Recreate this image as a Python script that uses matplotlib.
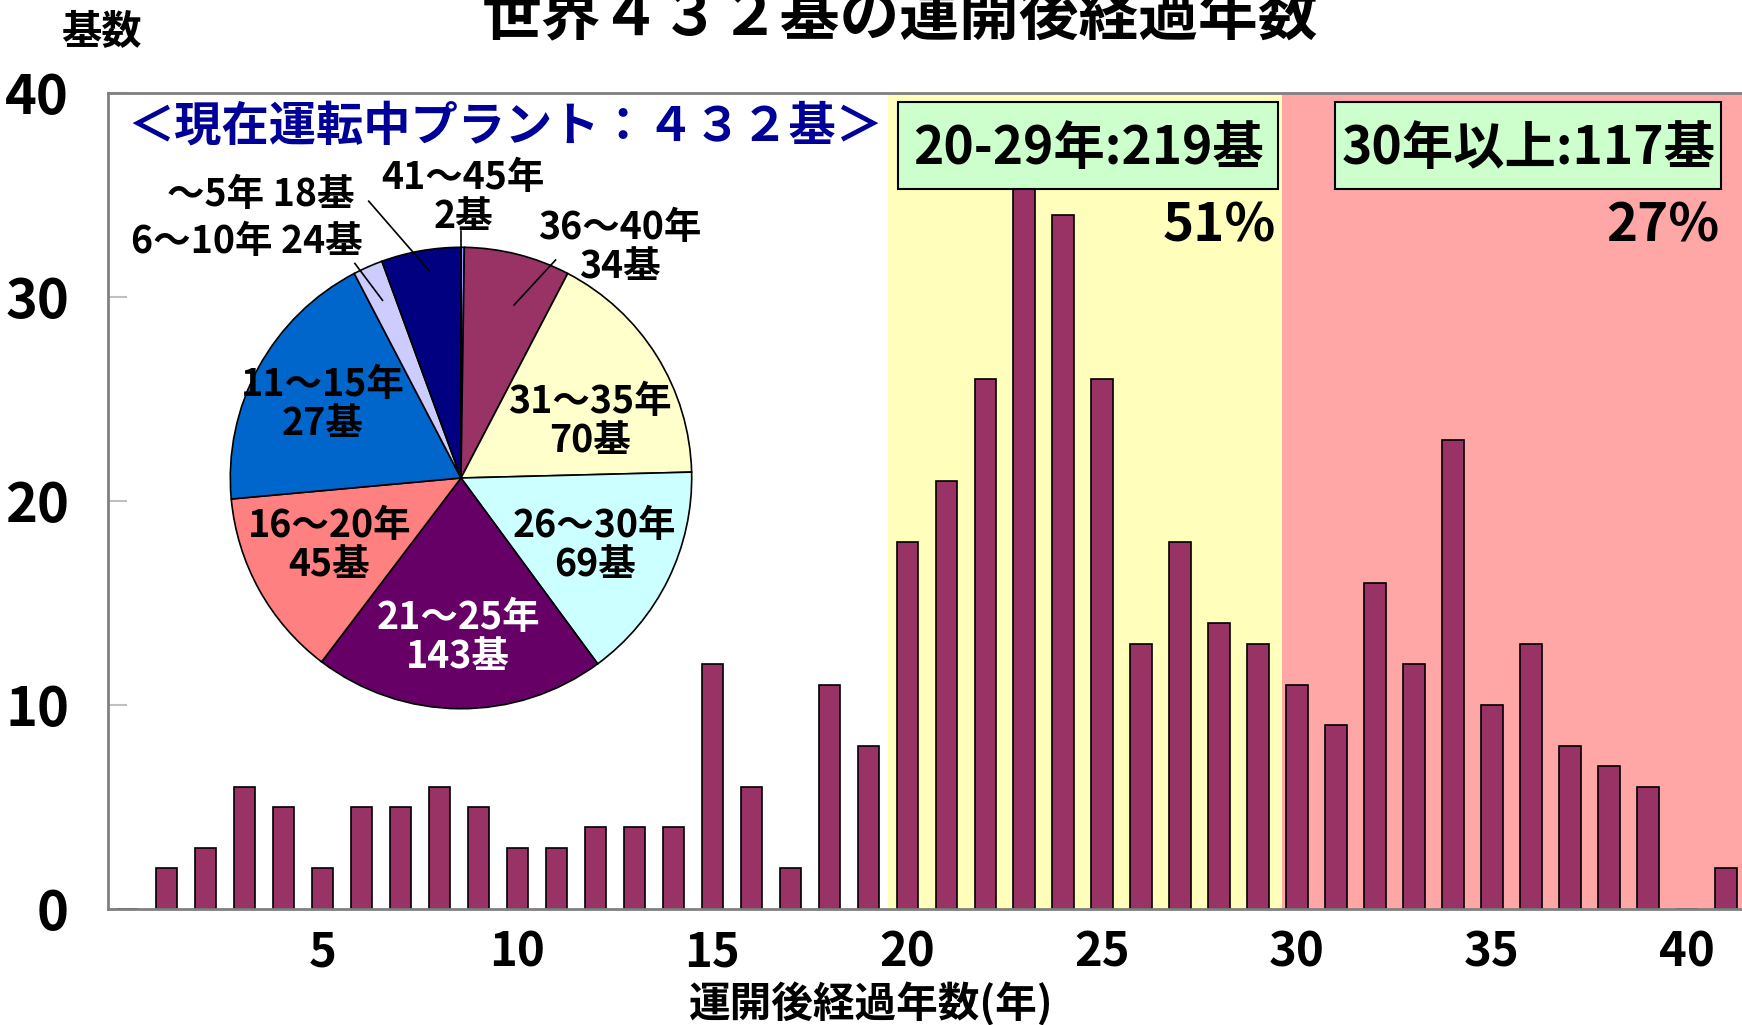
import matplotlib
matplotlib.use('Agg')
import matplotlib.pyplot as plt
from matplotlib.patches import Rectangle

plt.rcParams['font.family'] = ['Noto Sans CJK JP', 'DejaVu Sans']

# bar data: plants by years since start of operation
years = list(range(0, 42))
counts = [0,
          2, 3, 6, 5, 2, 5, 5, 6, 5, 3,
          3, 4, 4, 4, 12, 6, 2, 11, 8, 18,
          21, 26, 36, 34, 26, 13, 18, 14, 13, 11,
          9, 16, 12, 23, 10, 13, 8, 7, 6, 0, 2]
xticks = [5, 10, 15, 20, 25, 30, 35, 40]
yticks = [0, 10, 20, 30, 40]

# pie data (clockwise from top)
pie_ranges = ['41～45年', '36～40年', '31～35年', '26～30年', '21～25年',
              '16～20年', '11～15年', '6～10年', '～5年']
pie_counts = [2, 34, 70, 69, 143, 45, 27, 24, 18]
pie_sizes = [1, 32, 73, 66, 88, 57, 81, 9, 24]   # slice sizes as drawn
pie_colors = ['#9999FF', '#993366', '#FFFFCC', '#CCFFFF', '#660066',
              '#FF8080', '#0066CC', '#CCCCFF', '#000080']

fig = plt.figure(figsize=(17.42, 10.25), dpi=100)
ax = fig.add_axes([0.062, 0.1132, 0.94, 0.7961])

ax.axvspan(19.5, 29.6, color='#FFFFBB', zorder=0, lw=0)
ax.axvspan(29.6, 41.5, color='#FFA6A6', zorder=0, lw=0)
ax.bar(years, counts, width=0.55, color='#993366', edgecolor='black',
       linewidth=1.2, zorder=2)

ax.set_xlim(-0.5, 41.5)
ax.set_ylim(0, 40)
ax.set_xticks(xticks)
ax.set_xticklabels([str(t) for t in xticks], fontweight='bold', fontsize=34)
ax.set_yticks(yticks)
ax.set_yticklabels([str(t) for t in yticks], fontweight='bold', fontsize=39)
ax.tick_params(axis='x', length=0, pad=14)
ax.tick_params(axis='y', direction='in', length=14, color='#c0c0c0',
               width=1.5, pad=28)
for s in ['top', 'left', 'bottom']:
    ax.spines[s].set_color('#808080')
    ax.spines[s].set_linewidth(2)
ax.spines['right'].set_visible(False)

# range boxes
for x0, x1, txt, pct in [(19.77, 29.52, '20-29年:219基', '51%'),
                         (30.98, 40.87, '30年以上:117基', '27%')]:
    ax.add_patch(Rectangle((x0, 35.3), x1 - x0, 4.25, facecolor='#CCFFCC',
                           edgecolor='black', linewidth=1.5, zorder=5))
    ax.text((x0 + x1) / 2, 37.3, txt, ha='center', va='center',
            fontsize=37, fontweight='bold', zorder=6)
    ax.text(x1 - 0.05, 33.5, pct, ha='right', va='center', fontsize=38,
            fontweight='bold', zorder=6)

# titles and labels
fig.text(0.5166, 0.983, '世界４３２基の運開後経過年数', ha='center', va='center',
         fontsize=43, fontweight='bold')
fig.text(0.058, 0.968, '基数', ha='center', va='center', fontsize=29,
         fontweight='bold')
fig.text(0.29, 0.877, '＜現在運転中プラント：４３２基＞', ha='center', va='center',
         fontsize=34, fontweight='bold', color='#000099')
fig.text(0.50, 0.02, '運開後経過年数(年)', ha='center', va='center',
         fontsize=30, fontweight='bold')

# pie inset
cx, cy, r = 461, 478, 233
pax = fig.add_axes([(cx - r) / 1742, 1 - (cy + r) / 1025, 2 * r / 1742, 2 * r / 1025])
pax.pie(pie_sizes, colors=pie_colors, startangle=90, counterclock=False,
        wedgeprops=dict(edgecolor='black', linewidth=1.2))
pax.set_xlim(-1.01, 1.01)
pax.set_ylim(-1.01, 1.01)
pax.set_aspect('equal')
pax.axis('off')

lab = [f'{r_}\n{c}基' for r_, c in zip(pie_ranges, pie_counts)]
lab[7] = f'{pie_ranges[7]} {pie_counts[7]}基'
lab[8] = f'{pie_ranges[8]} {pie_counts[8]}基'
pos = [(0.01, 1.22), (0.69, 1.00), (0.56, 0.245), (0.58, -0.29),
       (-0.013, -0.69), (-0.57, -0.29), (-0.6, 0.32), (-0.93, 1.026),
       (-0.867, 1.23)]
for i, (t, (px, py)) in enumerate(zip(lab, pos)):
    pax.text(px, py, t, ha='center', va='center', fontsize=27,
             fontweight='bold', linespacing=1.0,
             color='white' if i == 4 else 'black', clip_on=False)

leaders = [((0, 1.07), (0, 0.905)),
           ((0.41, 0.945), (0.23, 0.75)),
           ((-0.40, 1.20), (-0.137, 0.897)),
           ((-0.46, 0.93), (-0.34, 0.77))]
for (x0, y0), (x1, y1) in leaders:
    pax.plot([x0, x1], [y0, y1], color='black', lw=1.2, clip_on=False)

fig.savefig('out.png', dpi=100)
